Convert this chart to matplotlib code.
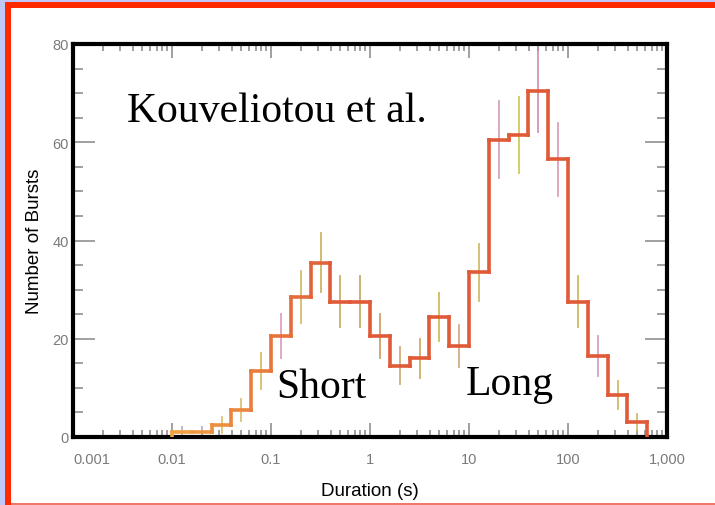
import numpy as np
import matplotlib
matplotlib.use("Agg")
import matplotlib.pyplot as plt
from matplotlib.patches import Rectangle
from matplotlib.ticker import FixedLocator, NullFormatter

# ---- data ----
log_edges = [-2.0, -1.8, -1.6, -1.4, -1.2, -1.0, -0.8, -0.6, -0.4, -0.2, 0.0,
             0.2, 0.4, 0.6, 0.8, 1.0, 1.2, 1.4, 1.6, 1.8, 2.0, 2.2, 2.4, 2.6, 2.8]
counts = [1, 1, 2.5, 5.5, 13.5, 20.5, 28.5, 35.5, 27.5, 27.5, 20.5, 14.5,
          16, 24.5, 18.5, 33.5, 60.5, 61.5, 70.5, 56.5, 27.5, 16.5, 8.5, 3]
errors = [1, 1, 1.6, 2.3, 3.7, 4.5, 5.3, 6, 5.2, 5.2, 4.5, 3.8,
          4, 4.9, 4.3, 5.8, 7.8, 7.8, 8.4, 7.5, 5.2, 4, 2.9, 1.7]
err_colors = ['#b0a0c0', '#b0a0c0', '#d8b860', '#d8b860', '#d0b050', '#d890b8',
              '#d0b050', '#c8a848', '#c0a050', '#b8a050', '#c89050', '#c8a060',
              '#c8a050', '#c8b040', '#c8a070', '#c8b050', '#d090b0', '#c8c040',
              '#d080a8', '#d890b0', '#c8b040', '#d090b8', '#c8b050', '#c8b060']
xtick_vals = [0.001, 0.01, 0.1, 1, 10, 100, 1000]
xtick_labels = ['0.001', '0.01', '0.1', '1', '10', '100', '1,000']
ytick_vals = [0, 20, 40, 60, 80]
ytick_labels = ['0', '20', '40', '60', '80']

W, H = 715, 506
fig = plt.figure(figsize=(W / 100, H / 100), dpi=100)
fig.patch.set_facecolor('white')

def px_rect(x0, y0, w, h, color):
    fig.patches.append(Rectangle((x0 / W, 1 - (y0 + h) / H), w / W, h / H,
                                 transform=fig.transFigure, color=color,
                                 zorder=0, linewidth=0))

# frame
px_rect(0, 0, 5, H, '#c0c8fa')
px_rect(0, 0, W, 3, '#c0c8fa')
px_rect(5, 3, 6, H - 3, '#ff2a00')
px_rect(5, 3, W - 5, 6, '#ff2a00')
px_rect(11, 504, W - 11, 2, '#f07868')

ax = fig.add_axes([73 / W, 1 - 438 / H, (667 - 73) / W, (438 - 45) / H])
ax.set_xscale('log')
ax.set_xlim(0.001, 1000)
ax.set_ylim(0, 80)

edges = [10 ** e for e in log_edges]

# histogram with colour going from orange to red
c0 = np.array(matplotlib.colors.to_rgb('#f0a040'))
c1 = np.array(matplotlib.colors.to_rgb('#e05a38'))
n = len(counts)
prev = 0
for i in range(n):
    t = min(1.0, i / 8)
    col = c0 * (1 - t) + c1 * t
    ax.plot([edges[i], edges[i]], [prev, counts[i]], color=col, lw=2.6,
            solid_capstyle='projecting', zorder=3)
    ax.plot([edges[i], edges[i + 1]], [counts[i], counts[i]], color=col,
            lw=2.6, solid_capstyle='projecting', zorder=3)
    prev = counts[i]
ax.plot([edges[-1], edges[-1]], [prev, 0], color=c1, lw=2.6, zorder=3)

# error bars
for i in range(n):
    xc = 10 ** ((log_edges[i] + log_edges[i + 1]) / 2)
    ax.plot([xc, xc], [counts[i] - errors[i], counts[i] + errors[i]],
            color=err_colors[i], lw=1.3, alpha=0.85, zorder=2)

# spines and ticks
for s in ax.spines.values():
    s.set_linewidth(3)
    s.set_color('black')

ax.xaxis.set_major_locator(FixedLocator(xtick_vals))
ax.set_xticklabels(xtick_labels)
minor = [m * 10 ** d for d in range(-3, 3) for m in range(2, 10)]
ax.xaxis.set_minor_locator(FixedLocator(minor))
ax.xaxis.set_minor_formatter(NullFormatter())
ax.set_yticks(ytick_vals)
ax.set_yticklabels(ytick_labels)
ax.yaxis.set_minor_locator(FixedLocator(list(range(0, 81, 5))))

ax.tick_params(axis='both', which='both', direction='in', top=True, right=True,
               colors='#909090', labelcolor='#7a7a7a', labelsize=10.5,
               width=1.2)
ax.tick_params(axis='x', which='major', length=10, pad=11)
ax.tick_params(axis='x', which='minor', length=5)
ax.tick_params(axis='y', which='major', length=16, pad=3)
ax.tick_params(axis='y', which='minor', length=7)
for lab in ax.get_xticklabels() + ax.get_yticklabels():
    lab.set_family('Liberation Sans')
ax.get_xticklabels()[0].set_horizontalalignment('left')

ax.set_xlabel('Duration (s)', fontsize=13.5, family='Liberation Sans', labelpad=11)
ax.set_ylabel('Number of Bursts', fontsize=13.5, family='Liberation Sans', labelpad=7)

ax.text(0.091, 0.804, 'Kouveliotou et al.', transform=ax.transAxes,
        fontsize=30, family='Liberation Serif', color='black', zorder=5,
        va='baseline')
ax.text(0.342, 0.102, 'Short', transform=ax.transAxes, fontsize=30,
        family='Liberation Serif', color='black', zorder=5, va='baseline')
ax.text(0.662, 0.109, 'Long', transform=ax.transAxes, fontsize=30,
        family='Liberation Serif', color='black', zorder=5, va='baseline')

fig.savefig('out.png', dpi=100)
